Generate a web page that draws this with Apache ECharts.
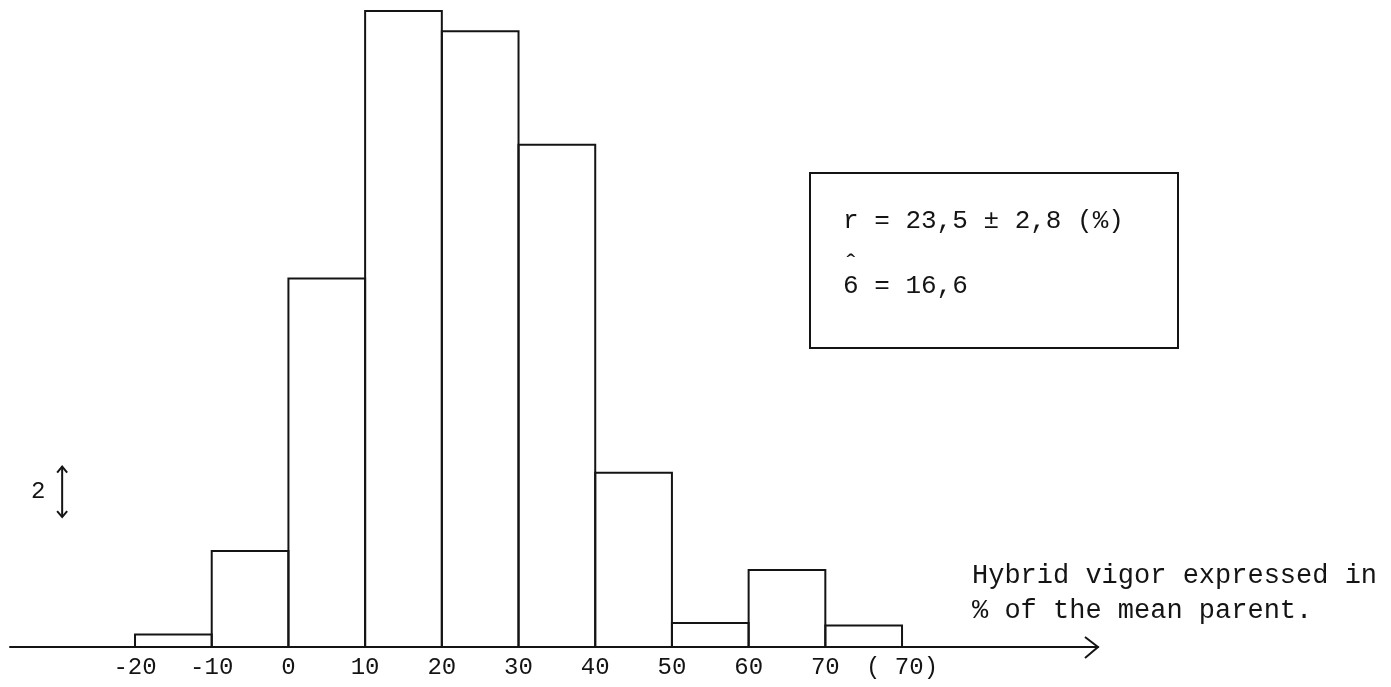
<!DOCTYPE html>
<html>
<head>
<meta charset="utf-8">
<script src="https://cdn.jsdelivr.net/npm/echarts@6/dist/echarts.min.js"></script>
<style>
html,body{margin:0;padding:0;background:#fff;}
#c{width:1391px;height:687px;}
</style>
</head>
<body>
<div id="c"></div>
<script>
// Bin edges (hybrid vigor, % of mean parent)
const binStart = [-20, -10, 0, 10, 20, 30, 40, 50, 60, 70];
const binEnd   = [-10, 0, 10, 20, 30, 40, 50, 60, 70, 80];
// Frequencies (%) (scale: arrow = 2)
const freq = [0.5, 3.8, 14.6, 25.2, 24.4, 19.9, 6.9, 0.95, 3.05, 0.85];
// Tick labels
const tickValues = [-20, -10, 0, 10, 20, 30, 40, 50, 60, 70, 80];
const tickLabels = ['-20', '-10', '0', '10', '20', '30', '40', '50', '60', '70', '( 70)'];
// Scale bar (2 units)
const scaleBarX = -29.5;
const scaleBarFrom = 5.15;
const scaleBarTo = 7.15;
const scaleBarLabel = '2';

const FONT = '"Liberation Mono", "DejaVu Sans Mono", monospace';
const INK = '#141414';

const histData = binStart.map((s, i) => [s, binEnd[i], freq[i]]);

const chart = echarts.init(document.getElementById('c'), null, {renderer: 'canvas'});

chart.setOption({
  backgroundColor: '#ffffff',
  animation: false,
  grid: {left: 10, right: 293, top: 6, bottom: 40, containLabel: false},
  xAxis: {
    type: 'value',
    min: -36.3,
    max: 105.55,
    splitLine: {show: false},
    axisLine: {show: true, onZero: false, lineStyle: {color: INK, width: 2}},
    axisTick: {show: false},
    axisLabel: {
      show: true,
      customValues: tickValues,
      margin: 9,
      fontFamily: FONT,
      fontSize: 24,
      color: INK,
      formatter: function (v) {
        const i = tickValues.indexOf(v);
        return i >= 0 ? tickLabels[i] : '';
      }
    }
  },
  yAxis: {
    type: 'value',
    min: 0,
    max: 25.4,
    show: false,
    splitLine: {show: false}
  },
  series: [
    {
      type: 'custom',
      data: histData,
      renderItem: function (params, api) {
        const p0 = api.coord([api.value(0), 0]);
        const p1 = api.coord([api.value(1), api.value(2)]);
        return {
          type: 'rect',
          shape: {x: p0[0], y: p1[1], width: p1[0] - p0[0], height: p0[1] - p1[1]},
          style: {fill: 'none', stroke: INK, lineWidth: 2}
        };
      },
      z: 3
    },
    {
      type: 'custom',
      data: [[scaleBarX, scaleBarFrom, scaleBarTo]],
      renderItem: function (params, api) {
        const a = api.coord([api.value(0), api.value(1)]);
        const b = api.coord([api.value(0), api.value(2)]);
        const h = 6, w = 5;
        return {
          type: 'group',
          children: [
            {type: 'line', shape: {x1: a[0], y1: a[1], x2: b[0], y2: b[1]}, style: {stroke: INK, lineWidth: 2}},
            {type: 'polyline', shape: {points: [[b[0] - w, b[1] + h], [b[0], b[1]], [b[0] + w, b[1] + h]]}, style: {stroke: INK, lineWidth: 2, fill: 'none'}},
            {type: 'polyline', shape: {points: [[a[0] - w, a[1] - h], [a[0], a[1]], [a[0] + w, a[1] - h]]}, style: {stroke: INK, lineWidth: 2, fill: 'none'}},
            {type: 'text', style: {text: scaleBarLabel, x: a[0] - 24, y: (a[1] + b[1]) / 2, align: 'center', verticalAlign: 'middle', font: '24px ' + FONT, fill: INK}}
          ]
        };
      }
    }
  ],
  graphic: [
    // axis arrow head
    {type: 'polyline', shape: {points: [[1085, 637], [1098, 647], [1085, 658]]}, style: {stroke: INK, lineWidth: 2, fill: 'none'}},
    // axis title
    {type: 'text', left: 972, top: 558, style: {text: 'Hybrid vigor expressed in\n% of the mean parent.', font: '27px ' + FONT, lineHeight: 35, fill: INK}},
    // stats box
    {type: 'rect', shape: {x: 810, y: 173, width: 368, height: 175}, style: {fill: 'none', stroke: INK, lineWidth: 2}},
    {type: 'text', left: 843, top: 208, style: {text: 'r = 23,5 \u00B1 2,8 (%)', font: '26px ' + FONT, fill: INK}},
    {type: 'text', left: 843, top: 252, style: {text: '\u02C6', font: '26px ' + FONT, fill: INK}},
    {type: 'text', left: 843, top: 273, style: {text: '6 = 16,6', font: '26px ' + FONT, fill: INK}}
  ]
});
</script>
</body>
</html>
